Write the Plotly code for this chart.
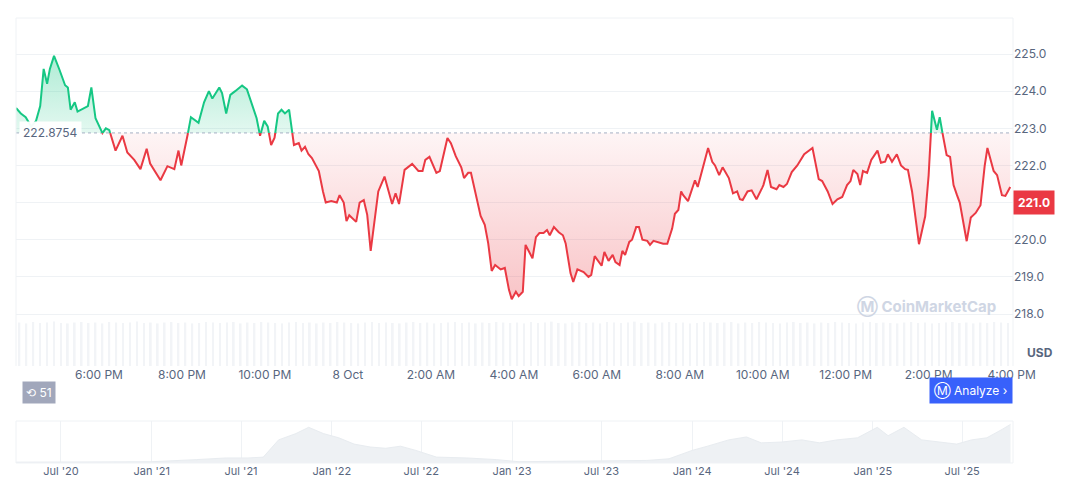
import plotly.graph_objects as go
import pandas as pd

# ---------- data ----------
start = pd.Timestamp("2025-10-07 16:00")
minutes = [0,7,14,22,29,35,40,45,49,55,63,71,75,79,85,89,104,109,115,125,130,135,144,154,161,171,180,189,194,209,219,229,235,239,248,253,264,272,279,284,294,298,304,310,317,327,334,348,353,359,364,369,374,379,384,389,395,402,409,413,418,423,428,438,444,448,456,464,468,474,478,482,492,497,503,508,513,517,524,533,544,549,554,562,573,582,588,592,598,608,613,624,629,636,644,648,654,658,668,672,678,683,688,693,701,707,713,717,723,727,733,737,747,752,757,763,768,772,778,785,791,795,802,806,812,821,828,832,837,847,851,857,863,867,873,877,881,887,891,897,901,906,913,917,922,936,942,949,953,958,962,965,972,976,982,986,1001,1007,1011,1017,1022,1031,1037,1043,1047,1051,1058,1064,1071,1079,1081,1087,1092,1100,1104,1110,1115,1122,1130,1140,1152,1161,1166,1174,1181,1188,1195,1202,1207,1211,1217,1221,1225,1231,1237,1246,1251,1257,1261,1267,1274,1280,1286,1290,1296,1306,1315,1320,1325,1332,1336,1342,1346,1351,1356,1361,1365,1375,1381,1388,1395,1401,1405,1414,1419,1426,1431,1438]
prices = [223.55,223.4,223.3,223.05,223.2,223.6,224.6,224.2,224.6,224.95,224.57,224.16,224.1,223.5,223.7,223.45,223.6,224.1,223.27,222.87,223.0,222.95,222.4,222.8,222.35,222.15,221.9,222.45,222.05,221.6,221.98,221.9,222.4,222.0,222.8,223.3,223.15,223.7,224.0,223.8,224.1,223.95,223.4,223.9,224.0,224.15,224.05,223.27,222.8,223.2,223.05,222.55,222.75,223.4,223.5,223.4,223.5,222.55,222.6,222.4,222.5,222.3,222.2,221.85,221.3,221.0,221.04,221.0,221.2,221.0,220.5,220.66,220.48,221.0,221.07,220.67,219.7,220.23,221.3,221.7,220.96,221.25,220.96,221.88,222.04,221.85,221.85,222.15,222.23,221.8,221.85,222.74,222.6,222.25,221.95,221.66,221.8,221.8,220.93,220.64,220.4,219.9,219.16,219.32,219.2,219.24,218.65,218.4,218.6,218.48,218.6,219.86,219.5,220.07,220.18,220.18,220.26,220.12,220.34,220.2,220.12,219.9,219.1,218.86,219.2,219.13,219.0,219.05,219.56,219.3,219.67,219.43,219.59,219.4,219.32,219.7,219.59,219.94,220.0,220.34,220.34,220.0,219.97,219.86,219.97,219.89,219.89,220.3,220.7,220.8,221.3,221.2,221.04,221.25,221.6,221.42,222.47,222.1,222.0,221.74,221.95,221.66,221.25,221.3,221.09,221.07,221.3,221.33,221.09,221.39,221.47,221.88,221.42,221.36,221.47,221.42,221.5,221.82,222.0,222.3,222.47,221.63,221.58,221.3,220.96,221.09,221.15,221.47,221.58,221.88,221.77,221.47,221.85,221.8,222.15,222.4,222.07,222.1,222.3,222.1,222.3,222.0,221.9,221.88,221.3,219.88,220.63,221.74,223.47,222.96,223.3,222.66,222.28,222.23,221.47,221.2,221.0,219.96,220.6,220.72,220.93,221.98,222.47,221.85,221.74,221.2,221.18,221.42]
baseline = 222.8754
last_price = 221.0
volume = [0.95,0.93,0.96,0.94,0.95,0.97,0.94,0.93,0.95,0.96,0.94,0.95,0.93,0.96,0.95,0.94,0.95,0.97,0.94,0.95,
          0.93,0.95,0.96,0.94,0.95,0.93,0.94,0.96,0.95,0.94,0.95,0.96,0.93,0.95,0.94,0.96,0.95,0.94,0.93,0.95,
          0.96,0.94,0.95,0.93,0.95,0.94,0.96,0.95,0.94,0.93,0.95,0.96,0.94,0.95,0.94,0.93,0.95,0.96,0.94,0.95,
          0.93,0.94,0.95,0.96,0.94,0.95,0.93,0.95,0.94,0.96,0.95,0.94,
          0.95,0.93,0.96,0.94,0.95,0.97,0.94,0.93,0.95,0.96,0.94,0.95,0.93,0.96,0.95,0.94,0.95,0.97,0.94,0.95,
          0.93,0.95,0.96,0.94,0.95,0.93,0.94,0.96,0.95,0.94,0.95,0.96,0.93,0.95,0.94,0.96,0.95,0.94,0.93,0.95,
          0.96,0.94,0.95,0.93,0.95,0.94,0.96,0.95,0.94,0.93,0.95,0.96,0.94,0.95,0.94,0.93,0.95,0.96,0.94,0.95,
          0.93,0.94,0.95,0.96,0.94,0.95,0.93,0.95,0.94,0.96,0.95,0.94]
nav_dates = ["2020-04-01","2020-07-01","2020-10-01","2021-01-01","2021-04-01","2021-06-01","2021-07-15","2021-08-15","2021-09-15","2021-10-20","2021-11-15","2021-12-15","2022-01-15","2022-02-15","2022-03-20","2022-04-20","2022-05-20","2022-06-20","2022-08-01","2022-10-01","2022-12-01","2023-01-15","2023-04-01","2023-07-01","2023-10-01","2023-11-15","2024-01-01","2024-02-01","2024-03-15","2024-04-20","2024-05-20","2024-07-01","2024-08-10","2024-09-15","2024-10-20","2024-12-01","2025-01-10","2025-02-01","2025-03-05","2025-04-10","2025-05-15","2025-06-20","2025-07-20","2025-08-20","2025-09-20","2025-10-07"]
nav_vals  = [0.02,0.02,0.02,0.03,0.08,0.12,0.12,0.14,0.55,0.7,0.85,0.7,0.6,0.45,0.38,0.35,0.4,0.3,0.14,0.12,0.08,0.03,0.04,0.05,0.06,0.1,0.3,0.4,0.55,0.62,0.48,0.5,0.55,0.48,0.55,0.6,0.85,0.65,0.85,0.55,0.5,0.45,0.55,0.6,0.8,0.92]
x_ticks_text = ["4:00 ...","6:00 PM","8:00 PM","10:00 PM","8 Oct","2:00 AM","4:00 AM","6:00 AM","8:00 AM","10:00 AM","12:00 PM","2:00 PM","4:00 PM"]
nav_ticks = ["2020-07-01","2021-01-01","2021-07-01","2022-01-01","2022-07-01","2023-01-01","2023-07-01","2024-01-01","2024-07-01","2025-01-01","2025-07-01"]
nav_ticks_text = ["Jul '20","Jan '21","Jul '21","Jan '22","Jul '22","Jan '23","Jul '23","Jan '24","Jul '24","Jan '25","Jul '25"]

GREEN, RED = "#16c784", "#ea3943"

times = [start + pd.Timedelta(minutes=m) for m in minutes]
xs, ys = [], []
for i in range(len(prices)):
    if i > 0:
        a, b = prices[i-1], prices[i]
        if (a - baseline) * (b - baseline) < 0:
            f = (baseline - a) / (b - a)
            xs.append(times[i-1] + (times[i] - times[i-1]) * f)
            ys.append(baseline)
    xs.append(times[i]); ys.append(prices[i])
up = [y if y >= baseline else None for y in ys]
dn = [y if y <= baseline else None for y in ys]
up_fill = [max(y, baseline) for y in ys]
dn_fill = [min(y, baseline) for y in ys]
base_line = [baseline] * len(xs)

fig = go.Figure()
vol_times = [start + pd.Timedelta(minutes=10 * i + 5) for i in range(len(volume))]
fig.add_trace(go.Bar(x=vol_times, y=volume, marker_color="#f2f4f7", marker_line_width=0,
                     xaxis="x", yaxis="y2", hoverinfo="skip"))
fig.add_trace(go.Scatter(x=xs, y=base_line, mode="lines", line=dict(width=0), hoverinfo="skip"))
fig.add_trace(go.Scatter(x=xs, y=up_fill, mode="lines", line=dict(width=0), fill="tonexty",
                         fillgradient=dict(type="vertical", start=baseline, stop=225.0,
                                           colorscale=[[0, "rgba(22,199,132,0.12)"], [1, "rgba(22,199,132,0.35)"]]),
                         hoverinfo="skip"))
fig.add_trace(go.Scatter(x=xs, y=base_line, mode="lines", line=dict(width=0), hoverinfo="skip"))
fig.add_trace(go.Scatter(x=xs, y=dn_fill, mode="lines", line=dict(width=0), fill="tonexty",
                         fillgradient=dict(type="vertical", start=218.3, stop=baseline,
                                           colorscale=[[0, "rgba(234,57,67,0.30)"], [1, "rgba(234,57,67,0.05)"]]),
                         hoverinfo="skip"))
fig.add_trace(go.Scatter(x=[xs[0], xs[-1]], y=[baseline, baseline], mode="lines",
                         line=dict(color="#a6b0c3", width=1, dash="dot"), hoverinfo="skip"))
fig.add_trace(go.Scatter(x=xs, y=dn, mode="lines", line=dict(color=RED, width=2), connectgaps=False))
fig.add_trace(go.Scatter(x=xs, y=up, mode="lines", line=dict(color=GREEN, width=2), connectgaps=False))
fig.add_trace(go.Scatter(x=pd.to_datetime(nav_dates), y=nav_vals, mode="lines", fill="tozeroy",
                         line=dict(color="#e8ecf0", width=1), fillcolor="#eef1f4",
                         xaxis="x3", yaxis="y3", hoverinfo="skip"))

tickvals = [start + pd.Timedelta(hours=2 * i) for i in range(13)]
fig.update_layout(
    width=1072, height=477, showlegend=False, plot_bgcolor="white", paper_bgcolor="white",
    margin=dict(l=8, r=67, t=10, b=20, autoexpand=False), bargap=0.75,
    font=dict(family="Inter, Roboto, sans-serif", color="#58667e", size=12),
    xaxis=dict(type="date", range=[start, start + pd.Timedelta(minutes=1442)], tickvals=tickvals,
               ticktext=x_ticks_text, showgrid=False, showline=False, zeroline=False, anchor="y2",
               ticks="", tickfont=dict(size=12, color="#58667e"), automargin=False),
    yaxis=dict(domain=[0.2215, 1], range=[216.6, 225.97], side="right", tickvals=list(range(218, 226)),
               tickformat=".1f", gridcolor="#eff2f5", showline=False, zeroline=False, ticks="",
               tickfont=dict(size=12, color="#58667e"), anchor="x", automargin=False),
    yaxis2=dict(domain=[0.2215, 0.329], range=[0, 1.05], visible=False, anchor="x"),
    xaxis3=dict(type="date", range=["2020-04-01", "2025-10-12"], tickvals=pd.to_datetime(nav_ticks),
                ticktext=nav_ticks_text, showgrid=True, gridcolor="#eff2f5", anchor="y3", ticks="",
                tickfont=dict(size=11, color="#58667e"), automargin=False),
    yaxis3=dict(domain=[0.0045, 0.0984], range=[0, 1.0], visible=False, anchor="x3"),
)
fig.add_shape(type="line", xref="paper", yref="paper", x0=0, x1=0, y0=0.2215, y1=1, line=dict(color="#eff2f5", width=1))
fig.add_shape(type="line", xref="paper", yref="paper", x0=1, x1=1, y0=0.2215, y1=1, line=dict(color="#eff2f5", width=1))
fig.add_shape(type="line", xref="paper", yref="paper", x0=0, x1=1, y0=1, y1=1, line=dict(color="#eff2f5", width=1))
fig.add_shape(type="rect", xref="paper", yref="paper", x0=0, x1=1, y0=0.0045, y1=0.0984, line=dict(color="#eff2f5", width=1))

fig.add_annotation(xref="paper", x=0.003, y=baseline, yref="y", text="222.8754", showarrow=False,
                   xanchor="left", yanchor="middle", bgcolor="rgba(255,255,255,0.95)",
                   font=dict(size=12, color="#58667e"), borderpad=3)
fig.add_annotation(xref="paper", x=1.0, y=last_price, yref="y", text="<b>221.0</b>", showarrow=False,
                   xanchor="left", yanchor="middle", bgcolor=RED, font=dict(size=12, color="white"), borderpad=4)
fig.add_annotation(xref="paper", yref="paper", x=1.012, y=(477 - 354 - 20) / 447, text="<b>USD</b>",
                   showarrow=False, xanchor="left", font=dict(size=12, color="#58667e"))
fig.add_annotation(xref="paper", yref="paper", x=0.985, y=(477 - 311 - 20) / 447, text="<b>Ⓜ CoinMarketCap</b>",
                   showarrow=False, xanchor="right", font=dict(size=15, color="#cfd6e4"))
fig.add_annotation(xref="paper", yref="paper", x=0.006, y=(477 - 396 - 20) / 447, text="⟲ 51",
                   showarrow=False, xanchor="left", bgcolor="#a1a7bb", font=dict(size=12, color="white"), borderpad=3)
fig.add_annotation(xref="paper", yref="paper", x=0.958, y=(477 - 396 - 20) / 447, text="Ⓜ Analyze ›",
                   showarrow=False, xanchor="center", bgcolor="#3861fb", font=dict(size=12, color="white"), borderpad=4)

fig.write_html("out.html")
